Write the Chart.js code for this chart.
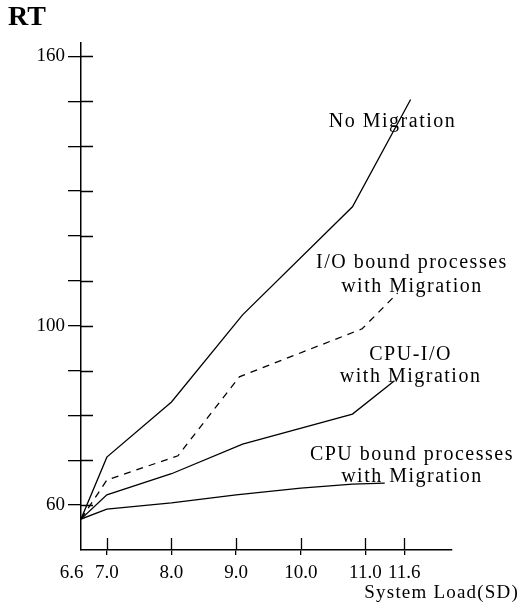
<!DOCTYPE html>
<html>
<head>
<meta charset="utf-8">
<script src="https://cdn.jsdelivr.net/npm/chart.js@4.4.1/dist/chart.umd.min.js"></script>
<style>
html,body{margin:0;padding:0;background:#fff;}
#wrap{width:532px;height:613px;}
</style>
</head>
<body>
<div id="wrap"><canvas id="c" width="532" height="613"></canvas></div>
<script>
// ---- data ----
const loadTicks = [6.6, 7.0, 8.0, 9.0, 10.0, 11.0, 11.6];
const rtTicks = [60, 70, 80, 90, 100, 110, 120, 130, 140, 150, 160];
const rtLabelled = [60, 100, 160];

const noMigX = [6.6, 7.0, 8.0, 9.1, 10.8, 11.7];
const noMigY = [56.9, 70.7, 83.0, 102.4, 126.5, 150.4];

const ioMigX = [6.6, 7.0, 8.1, 9.05, 10.95, 11.5];
const ioMigY = [56.9, 65.6, 71.0, 88.6, 99.3, 107.3];

const cpuIoMigX = [6.6, 7.0, 8.0, 9.1, 10.8, 11.45];
const cpuIoMigY = [56.9, 62.3, 67.0, 73.6, 80.3, 87.7];

const cpuMigX = [6.6, 7.0, 8.0, 9.0, 10.0, 10.8, 11.3];
const cpuMigY = [56.9, 59.1, 60.5, 62.3, 63.8, 64.7, 64.9];

const seriesLabels = [
  {lines: ["No Migration"], x: 11.42, y: [145.5]},
  {lines: ["I/O bound processes", "with Migration"], x: 11.72, y: [114.0, 108.7]},
  {lines: ["CPU-I/O", "with Migration"], x: 11.7, y: [93.5, 88.6]},
  {lines: ["CPU bound processes", "with Migration"], x: 11.72, y: [71.2, 66.3]}
];
const xTitle = "System Load(SD)";
const yTitle = "RT";

const zip = (xs, ys) => xs.map((x, i) => ({x: x, y: ys[i]}));
const FONT = 'Liberation Serif';

function lineDs(label, xs, ys, dash) {
  return {
    label: label,
    data: zip(xs, ys),
    borderColor: '#000',
    borderWidth: 1.3,
    borderDash: dash || [],
    pointRadius: 0,
    fill: false,
    tension: 0
  };
}

const decor = {
  id: 'decor',
  afterDraw(chart) {
    const ctx = chart.ctx;
    const xs = chart.scales.x, ys = chart.scales.y;
    const area = chart.chartArea;
    ctx.save();
    ctx.strokeStyle = '#000';
    ctx.lineWidth = 1.3;
    ctx.beginPath();
    rtTicks.forEach(v => {
      const py = Math.round(ys.getPixelForValue(v)) + 0.5;
      ctx.moveTo(area.left, py);
      ctx.lineTo(area.left + 12, py);
    });
    loadTicks.forEach(v => {
      if (v === loadTicks[0]) return;
      const px = Math.round(xs.getPixelForValue(v)) + 0.5;
      ctx.moveTo(px, area.bottom);
      ctx.lineTo(px, area.bottom - 12);
    });
    ctx.stroke();

    ctx.fillStyle = '#000';
    ctx.font = '20px "' + FONT + '"';
    ctx.textAlign = 'center';
    ctx.textBaseline = 'middle';
    try { ctx.letterSpacing = '1.5px'; } catch (e) {}
    seriesLabels.forEach(l => {
      const px = xs.getPixelForValue(l.x);
      l.lines.forEach((t, i) => {
        ctx.fillText(t, px, ys.getPixelForValue(l.y[i]));
      });
    });
    ctx.textAlign = 'right';
    try { ctx.letterSpacing = '1.2px'; } catch (e) {}
    ctx.font = '19px "' + FONT + '"';
    ctx.fillText(xTitle, chart.width - 13, area.bottom + 43);
    ctx.restore();
  }
};

new Chart(document.getElementById('c'), {
  type: 'line',
  data: {
    datasets: [
      lineDs('No Migration', noMigX, noMigY),
      lineDs('I/O bound processes with Migration', ioMigX, ioMigY, [7, 6]),
      lineDs('CPU-I/O with Migration', cpuIoMigX, cpuIoMigY),
      lineDs('CPU bound processes with Migration', cpuMigX, cpuMigY)
    ]
  },
  options: {
    responsive: false,
    animation: false,
    layout: {padding: {left: 8, right: 80, top: 0, bottom: 0}},
    plugins: {
      legend: {display: false},
      tooltip: {enabled: false},
      title: {
        display: true,
        text: yTitle,
        align: 'start',
        color: '#000',
        font: {family: FONT, size: 28, weight: 'bold', lineHeight: 1},
        padding: {top: 4, bottom: 11}
      }
    },
    scales: {
      x: {
        type: 'linear',
        min: 6.6,
        max: 12.34,
        afterBuildTicks: s => { s.ticks = loadTicks.map(v => ({value: v})); },
        afterFit: s => { s.height = 63; },
        ticks: {
          autoSkip: false,
          maxRotation: 0,
          padding: 7,
          color: '#000',
          font: {family: FONT, size: 19},
          // the first label sits left of the axis corner, as in the reference
          callback: v => Number(v).toFixed(1) + (v === loadTicks[0] ? '\u2002\u2002' : '')
        },
        grid: {
          drawOnChartArea: false,
          tickLength: 5,
          lineWidth: 1.3,
          color: c => (c.tick && c.tick.value === loadTicks[0]) ? 'rgba(0,0,0,0)' : '#000'
        },
        border: {display: true, color: '#000', width: 1.5}
      },
      y: {
        type: 'linear',
        min: 50,
        max: 163,
        afterBuildTicks: s => { s.ticks = rtTicks.map(v => ({value: v})); },
        afterFit: s => { s.width = 73; },
        ticks: {
          autoSkip: false,
          padding: 3,
          color: '#000',
          font: {family: FONT, size: 19},
          callback: v => rtLabelled.includes(v) ? String(v) : ''
        },
        grid: {
          drawOnChartArea: false,
          tickLength: 13,
          lineWidth: 1.3,
          color: '#000'
        },
        border: {display: true, color: '#000', width: 1.5}
      }
    }
  },
  plugins: [decor]
});
</script>
</body>
</html>
